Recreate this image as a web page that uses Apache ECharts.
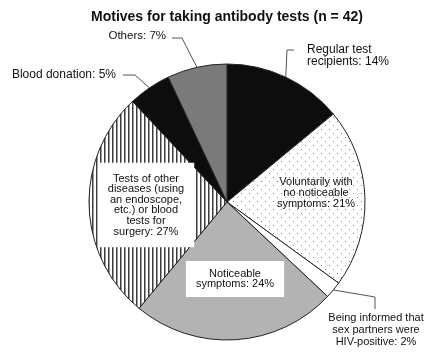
<!DOCTYPE html>
<html>
<head>
<meta charset="utf-8">
<script src="https://cdn.jsdelivr.net/npm/echarts@6/dist/echarts.min.js"></script>
<style>
  html, body { margin: 0; padding: 0; background: #fff; }
  #chart { width: 427px; height: 352px; }
</style>
</head>
<body>
<div id="chart"></div>
<script>
// Motives for taking antibody tests, clockwise from 12 o'clock
const categories = [
  'Regular test\nrecipients',
  'Voluntarily with\nno noticeable\nsymptoms',
  'Being informed that\nsex partners were\nHIV-positive',
  'Noticeable\nsymptoms',
  'Tests of other\ndiseases (using\nan endoscope,\netc.) or blood\ntests for\nsurgery',
  'Blood donation',
  'Others'
];
const percents = [14, 21, 2, 24, 27, 5, 7];

// Fill patterns
function stripePattern() {
  const c = document.createElement('canvas');
  c.width = 4; c.height = 4;
  const g = c.getContext('2d');
  g.fillStyle = '#fff'; g.fillRect(0, 0, 4, 4);
  g.fillStyle = '#3c3c3c'; g.fillRect(0, 0, 1, 4);
  g.fillStyle = '#9c9c9c'; g.fillRect(1, 0, 1, 4);
  return c;
}
function dotPattern() {
  const c = document.createElement('canvas');
  c.width = 8; c.height = 8;
  const g = c.getContext('2d');
  g.fillStyle = '#fff'; g.fillRect(0, 0, 8, 8);
  g.fillStyle = '#858585';
  g.fillRect(1, 1, 1, 1);
  g.fillRect(5, 5, 1, 1);
  return c;
}

const fills = [
  '#0d0d0d',
  { image: dotPattern(), repeat: 'repeat' },
  '#ffffff',
  '#b3b3b3',
  { image: stripePattern(), repeat: 'repeat' },
  '#0d0d0d',
  '#7a7a7a'
];

// Label style per slice: outside with leader line, or inside (boxed or plain)
const labelKind = ['out', 'in', 'out', 'box', 'box', 'out', 'out'];

// Label placement and type size
const labelPlace = {
  0: { x: 307, y: 44, align: 'left', vAlign: 'top', size: 12, line: [[287, 50], [294, 50]] },
  1: { x: 316, y: 193, align: 'center', vAlign: 'middle', size: 11 },
  2: { x: 376, y: 312, align: 'center', vAlign: 'top', size: 11, line: [[375, 297], [375, 309]] },
  3: { x: 235, y: 279, align: 'center', vAlign: 'middle', size: 11 },
  4: { x: 146, y: 205, align: 'center', vAlign: 'middle', size: 11 },
  5: { x: 116, y: 75, align: 'right', vAlign: 'middle', size: 12, line: [[135, 75], [123, 75]] },
  6: { x: 166, y: 36, align: 'right', vAlign: 'middle', size: 11.5, line: [[182, 38], [172, 38]] }
};

const fontFamily = '"Liberation Sans", Arial, sans-serif';

const data = categories.map((name, i) => {
  const kind = labelKind[i];
  const label = {
    show: true,
    position: kind === 'out' ? 'outside' : 'inside',
    color: '#111',
    fontFamily: fontFamily,
    fontSize: labelPlace[i].size,
    lineHeight: kind === 'out' ? 12 : 10.6,
    align: 'center'
  };
  if (kind === 'box') {
    label.backgroundColor = '#fff';
    label.padding = i === 4 ? [11, 10, 10, 10] : [8, 10, 7, 10];
  }
  return {
    name: name,
    value: percents[i],
    itemStyle: { color: fills[i] },
    label: label,
    labelLine: { show: kind === 'out', length: 10, length2: 10,
      lineStyle: { color: '#555', width: 1 } }
  };
});

const chart = echarts.init(document.getElementById('chart'), null, { renderer: 'canvas' });
chart.setOption({
  backgroundColor: '#fff',
  animation: false,
  title: {
    text: 'Motives for taking antibody tests (n = 42)',
    left: 86,
    top: 5,
    textStyle: { fontFamily: fontFamily, fontSize: 14, fontWeight: 'bold', color: '#111' }
  },
  series: [{
    type: 'pie',
    center: [227, 202],
    radius: 138,
    startAngle: 90,
    clockwise: true,
    avoidLabelOverlap: false,
    itemStyle: { borderColor: '#222', borderWidth: 1 },
    emphasis: { disabled: true },
    label: {
      formatter: p => p.name + ': ' + p.value + '%'
    },
    labelLayout: function (params) {
      const pl = labelPlace[params.dataIndex];
      const out = {
        x: pl.x, y: pl.y, align: pl.align, verticalAlign: pl.vAlign, hideOverlap: false, moveOverlap: null
      };
      if (pl.line && params.labelLinePoints) {
        out.labelLinePoints = [params.labelLinePoints[0]].concat(pl.line);
      }
      return out;
    },
    data: data
  }]
});
</script>
</body>
</html>
